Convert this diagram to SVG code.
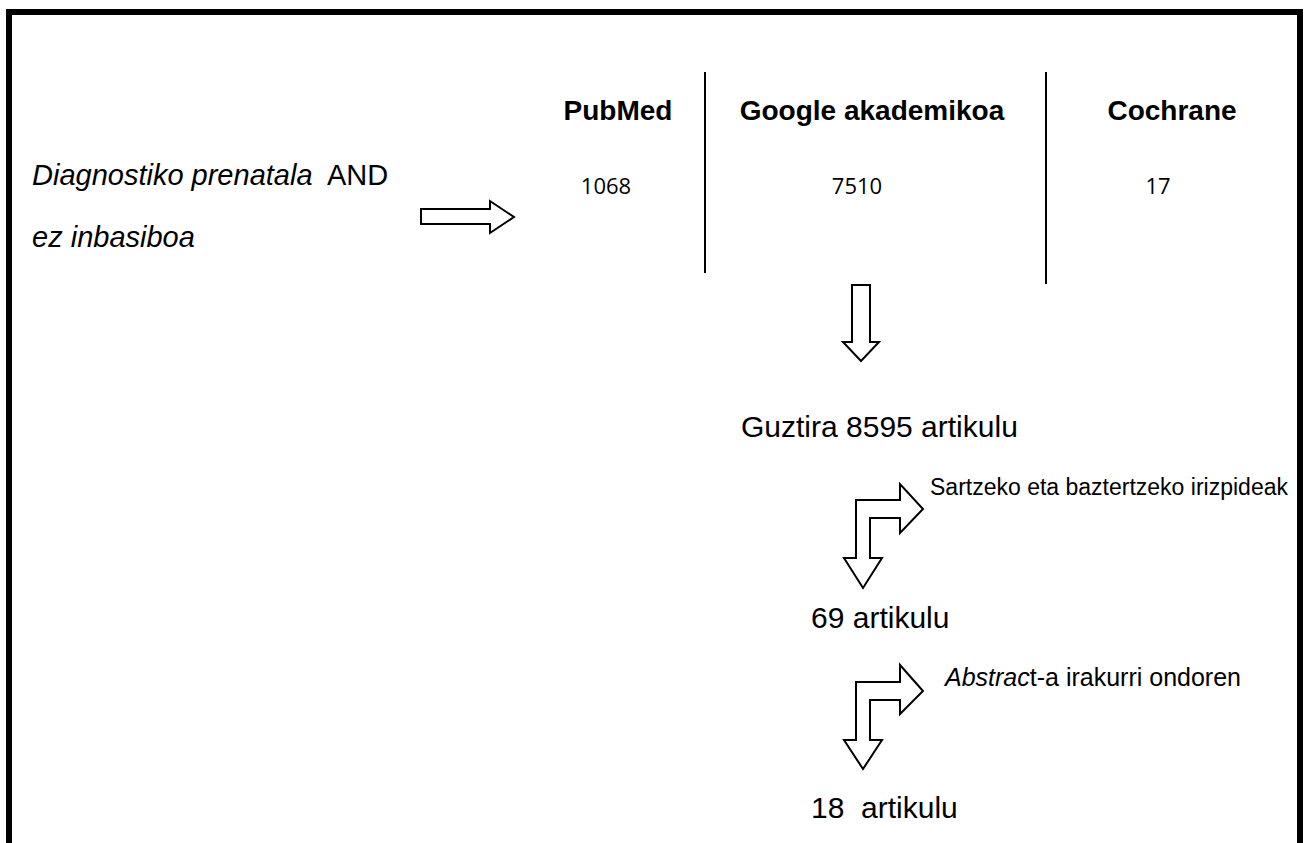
<svg xmlns="http://www.w3.org/2000/svg" width="1309" height="843" viewBox="0 0 1309 843">
<style>
.t{font-family:"Liberation Sans",Arial,sans-serif;fill:#000}
.h{font-weight:bold;font-size:28px}
.n{font-family:"Open Sans","Liberation Sans",sans-serif;font-size:22px;fill:#000}
.big{font-size:30px}
.sm{font-size:23px}
.arr{fill:#fff;stroke:#000;stroke-width:2;stroke-linejoin:miter}
.ln{stroke:#000;stroke-width:2}
</style>
<rect width="1309" height="843" fill="#fff"/>
<path d="M9 843 V12 H1300 V843" fill="none" stroke="#000" stroke-width="6"/>
<g id="table">
<line class="ln" x1="705" y1="72" x2="705" y2="273"/>
<line class="ln" x1="1046" y1="72" x2="1046" y2="284"/>
<text class="t h" x="618" y="120" text-anchor="middle">PubMed</text>
<text class="t h" x="872" y="120" text-anchor="middle">Google akademikoa</text>
<text class="t h" x="1172" y="120" text-anchor="middle">Cochrane</text>
<text class="n" x="606" y="194" text-anchor="middle">1068</text>
<text class="n" x="857" y="194" text-anchor="middle">7510</text>
<text class="n" x="1158" y="194" text-anchor="middle">17</text>
</g>
<g id="query">
<text class="t" x="32" y="185" font-size="29px" xml:space="preserve"><tspan font-style="italic">Diagnostiko prenatala</tspan>  AND</text>
<text class="t" x="32" y="247" font-size="29px" font-style="italic">ez inbasiboa</text>
</g>
<g id="total"><text class="t big" x="741" y="437">Guztira 8595 artikulu</text></g>
<g id="n69"><text class="t big" x="811" y="628">69 artikulu</text></g>
<g id="n18"><text class="t big" x="811" y="818" xml:space="preserve">18  artikulu</text></g>
<g id="crit1"><text class="t sm" x="930" y="495">Sartzeko eta baztertzeko irizpideak</text></g>
<g id="crit2"><text class="t" font-size="25px" x="945" y="686"><tspan font-style="italic">Abstrac</tspan>t-a irakurri ondoren</text></g>
<g id="connectors">
<polygon class="arr" points="421,209 490,209 490,201 514,217 490,233 490,224 421,224"/>
<polygon class="arr" points="852,285 870,285 870,342 879,342 861,361 843,342 852,342"/>
<polygon class="arr" points="856,500 900,500 900,484 923,509 900,533 900,518 870,518 870,558 882,558 863,588 844,558 856,558"/>
<polygon class="arr" points="856,682 900,682 900,665 923,691 900,714 900,700 870,700 870,740 882,740 863,769 844,740 856,740"/>
</g>
</svg>
